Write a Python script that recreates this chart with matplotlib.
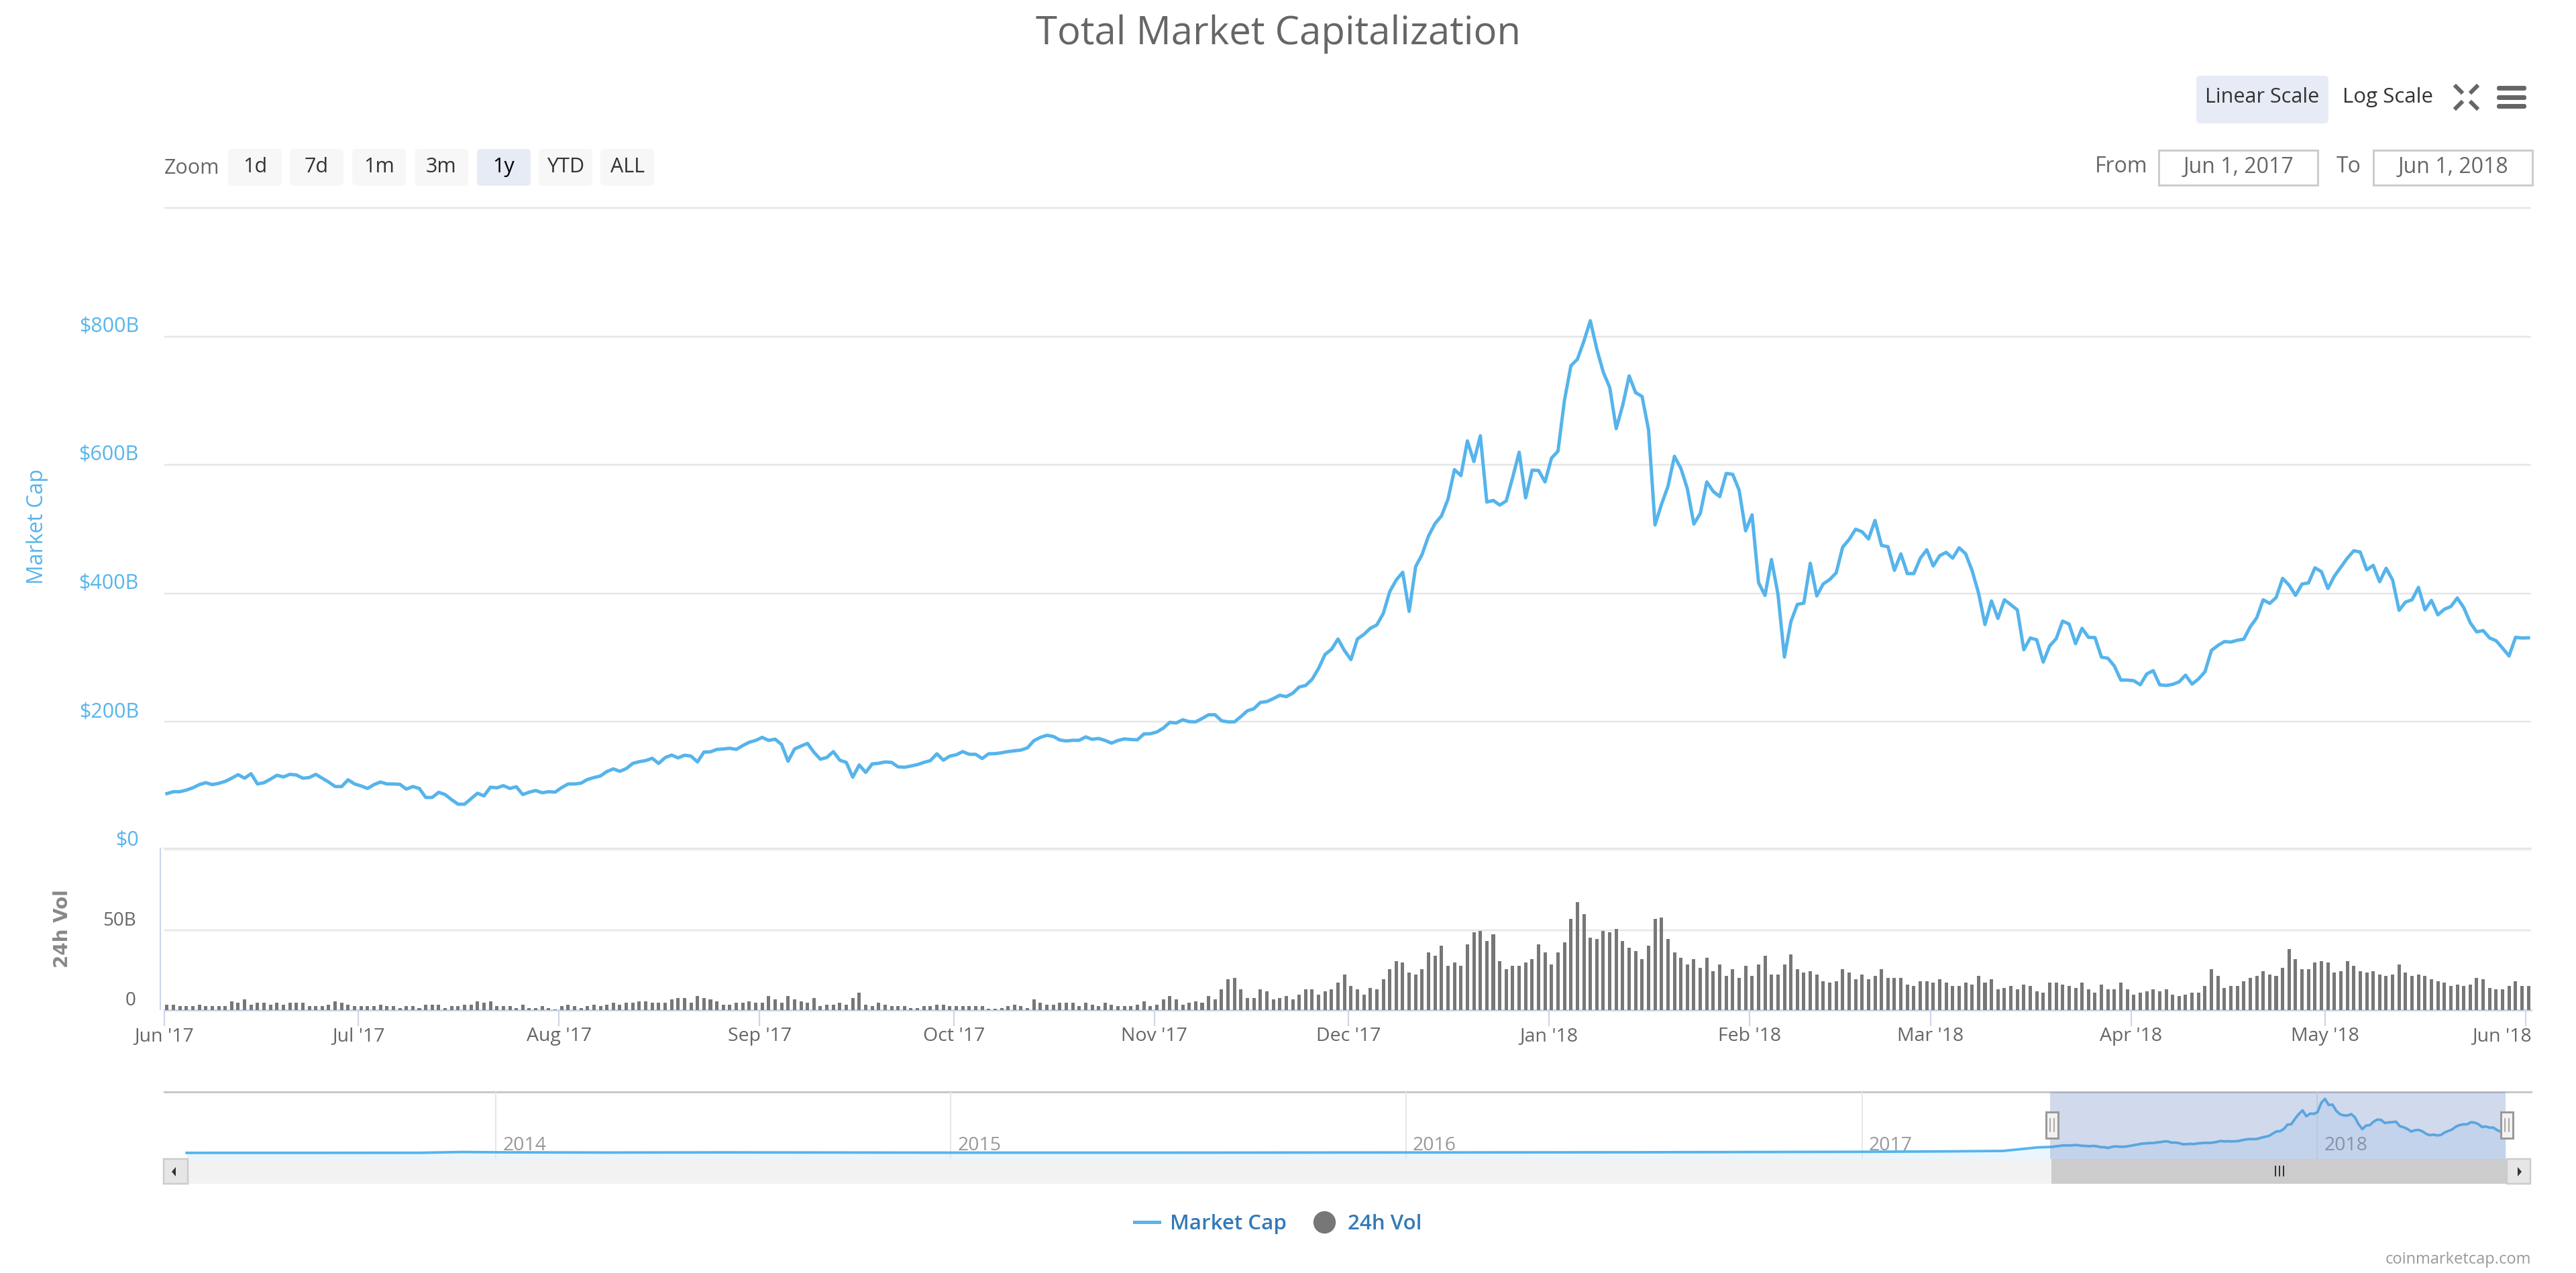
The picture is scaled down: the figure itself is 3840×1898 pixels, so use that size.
import datetime as dt
import matplotlib
matplotlib.use('Agg')
import matplotlib.pyplot as plt
import matplotlib.dates as mdates
import matplotlib.transforms as mtrans
from matplotlib.lines import Line2D
from matplotlib.patches import FancyBboxPatch, Rectangle, Polygon
import numpy as np

plt.rcParams['font.family'] = ['Open Sans', 'DejaVu Sans']

# daily values, starting Jun 1 2017 ($ billions)
market_cap = [
    88, 91, 91, 93.5, 97, 102, 105, 102, 104, 107, 112, 117.5, 112, 119, 103, 105, 110.5, 116.5, 114, 118,
    117, 112, 113, 118, 112, 106, 99, 99, 109.5, 103, 100, 96, 102, 106, 103, 103, 102.5, 95, 99, 96,
    82, 82, 90, 86.5, 78.5, 71.5, 71.5, 80, 88.6, 84.4, 98, 97, 100.4, 96, 98.7, 86.5, 90.3, 92.8, 89.3, 91,
    90.3, 97.3, 103, 103, 104.3, 110, 113, 115.4, 122.4, 126.5, 122.7, 127, 135, 137.7, 139.4, 143, 135, 144, 148, 143.6,
    147.8, 146.4, 137.3, 152.7, 153, 156.8, 157.5, 158.6, 156.8, 162.8, 168, 170.8, 175.6, 170.8, 172.8, 164.5, 138.4, 157.5, 162, 166.2,
    152.3, 141.5, 144.3, 153.4, 140, 136.6, 113.7, 132.5, 121, 134.2, 135.2, 137.3, 136.6, 129.7, 129, 131, 133.2, 136.6, 139.4, 150,
    140, 146.4, 148.5, 153.4, 149.2, 149.2, 142.6, 150, 150.2, 151.6, 153.4, 154.7, 155.8, 159.3, 170.4, 175.6, 178.8, 177, 171.5, 170,
    171, 171, 176.3, 172.5, 173.9, 170.8, 166.6, 170.8, 173.2, 172.2, 171.8, 180.9, 181.2, 184, 190, 199, 198, 203, 200, 199.7,
    205, 210.8, 210.8, 201.4, 199.7, 199.7, 208, 217, 220.2, 230, 231.3, 235.9, 241.1, 239, 244.2, 254, 256.4, 266, 283, 304.7,
    312.7, 328.7, 310.7, 296.7, 328.7, 335.9, 345.4, 350.6, 368.6, 402.6, 420.6, 432.6, 371.8, 441.4, 460.5, 489.3, 508.5, 520.5, 546.5, 592.4,
    583.2, 637.2, 605.2, 645.2, 542, 544.5, 537.3, 543.7, 580.5, 619.6, 548.5, 591.6, 591.2, 573.3, 610.4, 621.2, 700.4, 754.3, 764.3, 792.3,
    824.3, 780.3, 744.3, 720.3, 656.4, 692.4, 738.4, 712.4, 706.4, 654.4, 506.5, 538.5, 566.5, 613.2, 594.4, 562.5, 507.7, 524.5, 573.3, 558.5,
    550.5, 586.5, 585.2, 560.5, 497.3, 522, 416.6, 396.6, 452.5, 398.6, 300.7, 355.8, 382.6, 384.6, 446.6, 395.8, 414.6, 421.4, 431.8, 471.7,
    483.7, 499.7, 495.7, 484.5, 513.3, 474.5, 472.5, 435.7, 461.3, 430.6, 430.6, 454.5, 467.7, 442.5, 458.5, 463.7, 454.6, 470.8, 461.6, 435.4,
    400.4, 351.3, 388, 360.8, 389.8, 382.1, 374, 312, 330.3, 327.5, 292.8, 318, 329.2, 356.6, 352, 321.5, 345.4, 331.3, 331, 300.5,
    298.8, 286.5, 264.8, 264.8, 263.8, 257.4, 274.3, 279.5, 257.4, 256.4, 258.1, 262, 272.5, 258.5, 266.5, 277.8, 311, 318.7, 324.7, 324,
    326.8, 328.5, 347.8, 361.8, 389.8, 384.2, 393.3, 423.1, 412.6, 396.8, 414.4, 416.1, 439.6, 433.6, 407.4, 426.6, 440.6, 454.6, 466.2, 464.1,
    436.4, 443.4, 417.9, 438.9, 420.7, 373.4, 386.3, 389.8, 409.1, 374.1, 388.8, 366.4, 375.1, 379.3, 392.6, 377.6, 354.1, 339.8, 341.9, 330.3,
    326.1, 314.5, 302.3, 331.3, 330.3, 330.6,
]
volume = [
    3.2, 3.2, 2.2, 2.2, 2.2, 3.2, 2.2, 2.2, 2.2, 2.2, 5.3, 4.3, 6.4, 3.2, 4.3, 4.3, 3.2, 4.3, 3.2, 4.3,
    4.3, 4.3, 2.2, 2.2, 2.2, 3.2, 5.3, 4.3, 3.2, 2.2, 2.2, 2.2, 2.2, 3.2, 2.2, 2.2, 1.1, 2.2, 2.2, 1.1,
    3.2, 3.2, 3.2, 1.1, 2.2, 2.2, 3.2, 3.2, 5.3, 4.3, 5.3, 2.2, 2.2, 2.2, 1.1, 3.2, 1.1, 1.1, 2.2, 1.1,
    0.3, 2.2, 3.2, 2.2, 1.1, 2.2, 3.2, 2.2, 3.2, 4.3, 3.2, 4.3, 4.3, 5.3, 5.3, 4.3, 4.3, 4.3, 6.4, 7.4,
    7.4, 4.3, 8.5, 7.4, 6.4, 5.3, 3.2, 3.2, 4.3, 4.3, 5.3, 4.3, 4.3, 8.5, 6.4, 4.3, 8.5, 6.4, 5.3, 4.3,
    7.4, 2.2, 3.2, 3.2, 4.3, 3.2, 7.4, 10.6, 3.2, 2.2, 4.3, 3.2, 2.2, 2.2, 2.2, 1.1, 1.1, 2.2, 2.2, 3.2,
    3.2, 2.2, 2.2, 2.2, 2.2, 2.2, 2.2, 0.9, 0.9, 1.1, 2.2, 3.2, 2.2, 1.1, 6.4, 4.3, 3.2, 3.2, 4.3, 4.3,
    4.3, 2.2, 4.3, 3.2, 2.2, 4.3, 3.2, 2.2, 2.2, 2.2, 3.2, 5.3, 2.2, 3.2, 6.4, 8.5, 6.4, 3.2, 4.3, 5.3,
    4.3, 8.5, 6.4, 12.7, 19, 20, 12.7, 7.4, 7.4, 12.7, 11.6, 6.4, 7.4, 8.5, 6.6, 9.7, 12.7, 12.7, 9.7, 11.8,
    12.7, 16.9, 22.3, 15, 12.7, 9.7, 13.9, 12.7, 19.2, 25.5, 30.7, 29.7, 23.4, 22.3, 25.5, 36, 33.9, 40.2, 27.6, 29.7,
    27.6, 41.2, 48.6, 49.6, 43.3, 47.5, 30.7, 25.5, 27.6, 27.6, 29.7, 31.8, 41.2, 36, 28.6, 36, 42.3, 57, 67.5, 60,
    45.4, 44.4, 49.6, 48.6, 50.6, 43.3, 39, 37, 31.8, 40.2, 57, 58, 44.4, 36, 32.8, 28.6, 31.8, 26.5, 32.8, 24.4,
    28.6, 21.3, 25.5, 20.2, 27.6, 21.3, 28.6, 33.9, 22.3, 22.3, 28.6, 34.9, 25.5, 23.4, 24.4, 22.3, 18, 17, 18, 25.5,
    23.4, 19.2, 22.3, 19.2, 21.3, 25.5, 20.2, 20.2, 20.2, 16, 15, 18, 18, 17, 19.2, 17, 15, 15, 17, 16,
    21.3, 17, 19.2, 12.9, 13.9, 15, 12.9, 16, 15, 11.8, 10.8, 17, 17, 16, 15, 13.9, 17, 12.9, 10.8, 16,
    12.9, 12.9, 17, 12.9, 9.7, 10.8, 11.8, 12.9, 11.8, 12.9, 9.7, 8.7, 9.7, 10.8, 10.8, 15, 25.5, 21.3, 13.9, 15,
    15, 18, 20.2, 21.3, 24.4, 22.3, 21.3, 26.5, 38.1, 31.8, 25.5, 25.5, 29.7, 30.7, 29.7, 23.4, 24.4, 30.7, 27.6, 24.4,
    23.4, 24.4, 22.3, 21.3, 22.3, 28.6, 23.4, 21.3, 22.3, 21.3, 19.2, 18, 17, 15, 16, 15, 16, 20.2, 19.2, 13.9,
    12.9, 12.9, 15, 18, 15, 15,
]
month_ticks = ['2017-06-01', '2017-07-01', '2017-08-01', '2017-09-01', '2017-10-01', '2017-11-01', '2017-12-01',
               '2018-01-01', '2018-02-01', '2018-03-01', '2018-04-01', '2018-05-01', '2018-06-01']
month_labels = ["Jun '17", "Jul '17", "Aug '17", "Sep '17", "Oct '17", "Nov '17", "Dec '17",
                "Jan '18", "Feb '18", "Mar '18", "Apr '18", "May '18", "Jun '18"]
cap_ticks = [0, 200, 400, 600, 800, 1000]
cap_labels = ['$0', '$200B', '$400B', '$600B', '$800B', '']
vol_ticks = [0, 50]
vol_labels = ['0', '50B']

# navigator history before the zoomed year
nav_dates = ['2013-04-28', '2013-08-01', '2013-11-01', '2013-12-05', '2014-01-01', '2014-04-01', '2014-07-01',
             '2015-01-01', '2015-07-01', '2016-01-01', '2016-07-01', '2017-01-01', '2017-03-01', '2017-04-01',
             '2017-04-24', '2017-05-22']
nav_values = [1.5, 1.5, 2.5, 14, 10, 6, 8.5, 4.5, 4.5, 7, 10, 17, 22, 27, 30, 82]
nav_years = ['2014', '2015', '2016', '2017', '2018']
zoom_buttons = ['1d', '7d', '1m', '3m', '1y', 'YTD', 'ALL']
zoom_lefts = [340, 432, 525, 618, 711, 803, 895]

W, H = 3840, 1898
BLUE = '#56B4EB'
GRID = '#E6E6E6'
AXIS = '#CCD6EB'
GREY = '#666666'
px = 0.72  # points per pixel at dpi=100


def box(l, t, r, b):
    return [l / W, 1 - b / H, (r - l) / W, (b - t) / H]


def num(s):
    return mdates.date2num(dt.date.fromisoformat(s))


fig = plt.figure(figsize=(W / 100, H / 100), dpi=100, facecolor='white')

days = mdates.date2num(dt.date(2017, 6, 1)) + np.arange(len(market_cap)) + 0.4
x0 = num('2017-06-01')
xlim = (x0, x0 + 365.8)

# main panel
ax = fig.add_axes(box(245, 300, 3773, 1267.5))
ax.plot(days, market_cap, color=BLUE, lw=5 * px, solid_joinstyle='round', zorder=3, label='Market Cap')
ax.set_xlim(xlim)
ax.set_ylim(0, (1267.5 - 300) / 0.9575)
ax.set_xticks([])
ax.set_yticks(cap_ticks)
ax.set_yticklabels(cap_labels, color='#58B5EB', fontsize=22, va='bottom')
ax.tick_params(axis='y', length=0, pad=38 * px)
ax.grid(axis='y', color=GRID, lw=2.5 * px)
ax.set_axisbelow(True)
for s in ax.spines.values():
    s.set_visible(False)
ax.patch.set_alpha(0)

# volume panel
vol = fig.add_axes(box(245, 1265, 3773, 1505.7))
vol.bar(days, volume, width=0.52, color='#777777', zorder=3)
vol.set_xlim(xlim)
vol.set_ylim(0, (1505.7 - 1265) / 2.38)
vol.set_yticks(vol_ticks)
vol.set_yticklabels(vol_labels, color=GREY, fontsize=20, va='bottom')
vol.tick_params(axis='y', length=0, pad=42 * px)
vol.set_xticks([num(m) for m in month_ticks])
vol.set_xticklabels(month_labels, color=GREY, fontsize=20.5)
vol.tick_params(axis='x', length=24 * px, width=2.2 * px, color=AXIS, pad=1)
vol.grid(axis='y', color=GRID, lw=2.5 * px)
vol.set_axisbelow(True)
for name in ['left', 'right']:
    vol.spines[name].set_visible(False)
vol.spines['top'].set_color(GRID)
vol.spines['top'].set_linewidth(2.5 * px)
vol.spines['bottom'].set_color(AXIS)
vol.spines['bottom'].set_linewidth(3 * px)
vol.patch.set_alpha(0)
# last label sits inside the right edge
last = vol.get_xticklabels()[-1]
last.set_ha('right')
last.set_transform(last.get_transform() + mtrans.ScaledTranslation(9 / 100, 0, fig.dpi_scale_trans))

# navigator, zoomed year grouped into 3 day means like the original
nav = fig.add_axes(box(245, 1628, 3773, 1728))
grp = len(market_cap) // 3
nav_x = [num(d) for d in nav_dates] + [days[i * 3 + 1] for i in range(grp)] + [days[-1]]
nav_y = nav_values + [np.mean(market_cap[i * 3:i * 3 + 3]) for i in range(grp)] + [market_cap[-1]]
nav.fill_between(nav_x, nav_y, -89, color='#EBF5FD', lw=0, zorder=1)
nav.plot(nav_x, nav_y, color=BLUE, lw=3.8 * px, zorder=3)
year_x = [num(y + '-01-01') for y in nav_years]
nav.set_xlim(year_x[-1] - 1461 - 265.9, year_x[-1] + 171.7)
nav.set_ylim(-89, 901)
nav.set_xticks(year_x)
nav.set_xticklabels([])
nav.set_yticks([])
nav.tick_params(axis='x', length=0)
nav.grid(axis='x', color=GRID, lw=2 * px, zorder=2)
nav.set_axisbelow(False)
for y, xv in zip(nav_years, year_x):
    nav.text(xv + 5.5, 105, y, color='#999999', fontsize=20.5, va='center', ha='left', zorder=4)
nav.axvspan(num('2017-06-01'), num('2018-06-01'), color='#6685C2', alpha=0.3, lw=0, zorder=5)
for name in ['left', 'right', 'bottom']:
    nav.spines[name].set_visible(False)
nav.spines['top'].set_color('#C8C8C8')
nav.spines['top'].set_linewidth(3 * px)

# overlay in reference pixels for the page furniture
ui = fig.add_axes([0, 0, 1, 1], zorder=10)
ui.set_xlim(0, W)
ui.set_ylim(H, 0)
ui.axis('off')


def button(l, t, r, b, fc):
    ui.add_patch(FancyBboxPatch((l + 5, t + 5), r - l - 10, b - t - 10, boxstyle='round,pad=5,rounding_size=6',
                                fc=fc, ec='none'))


ui.text(1905, 51, 'Total Market Capitalization', color=GREY, fontsize=41.8, ha='center', va='center')
ui.text(55, 785, 'Market Cap', color='#58B5EB', fontsize=23, rotation=90, ha='center', va='center')
ui.text(93, 1385, '24h Vol', color='#888888', fontsize=20, rotation=90, ha='center', va='center',
        family='DejaVu Sans', weight='bold')
ui.plot([239, 239], [1265, 1505], color=AXIS, lw=2.2 * px)

ui.text(245, 251, 'Zoom', color=GREY, fontsize=22, ha='left', va='center')
for lab, l in zip(zoom_buttons, zoom_lefts):
    active = lab == '1y'
    button(l, 222, l + 80, 277, '#E6EBF5' if active else '#F7F7F7')
    ui.text(l + 40, 249, lab, color='black' if active else '#333333', fontsize=22, ha='center', va='center')

button(3274, 113, 3471, 184, '#E6EBF5')
ui.text(3372, 145, 'Linear Scale', color='#333333', fontsize=22, ha='center', va='center')
ui.text(3559, 145, 'Log Scale', color='#333333', fontsize=22.5, ha='center', va='center')
for a, b, c, d in [(3661, 129, 3669, 137), (3692, 129, 3684, 137), (3661, 161, 3669, 153), (3692, 161, 3684, 153)]:
    ui.plot([a, c], [b, d], color=GREY, lw=6 * px)
for t in [128, 142, 155]:
    ui.add_patch(FancyBboxPatch((3725, t + 3), 38, 1, boxstyle='round,pad=3', fc=GREY, ec='none'))

ui.text(3162, 248, 'From', color=GREY, fontsize=23, ha='center', va='center')
ui.text(3501, 248, 'To', color=GREY, fontsize=23, ha='center', va='center')
for l, r, lab in [(3218, 3455, 'Jun 1, 2017'), (3538, 3775, 'Jun 1, 2018')]:
    ui.add_patch(Rectangle((l, 224), r - l, 52, fc='white', ec='#CCCCCC', lw=3 * px))
    ui.text((l + r) / 2, 249, lab, color=GREY, fontsize=23, ha='center', va='center')

# scrollbar and navigator handles
ui.add_patch(Rectangle((280, 1728), 3457, 37, fc='#F2F2F2', ec='none'))
ui.add_patch(Rectangle((3058, 1728), 679, 37, fc='#CCCCCC', ec='none'))
for l, r in [(244, 280), (3737, 3772)]:
    ui.add_patch(Rectangle((l, 1728), r - l, 37, fc='#E6E6E6', ec='#CCCCCC', lw=2.5 * px))
ui.add_patch(Polygon([(262, 1740), (262, 1754), (256, 1747)], fc='#333333', ec='none'))
ui.add_patch(Polygon([(3753, 1740), (3753, 1754), (3759, 1747)], fc='#333333', ec='none'))
for g in [3392, 3398, 3404]:
    ui.plot([g, g], [1739, 1753], color='#333333', lw=2 * px)
for c in [3059, 3737]:
    ui.add_patch(Rectangle((c - 9, 1658), 18, 39, fc='#F2F2F2', ec='#999999', lw=3 * px))
    for g in [c - 3, c + 3]:
        ui.plot([g, g], [1668, 1687], color='#999999', lw=1.6 * px)

ui.text(3773, 1878, 'coinmarketcap.com', color='#999999', fontsize=17, ha='right', va='center')

handles = [Line2D([], [], color=BLUE, lw=5 * px),
           Line2D([], [], color='#777777', marker='o', ms=32 * px, lw=0)]
fig.legend(handles, ['Market Cap', '24h Vol'], loc='center', bbox_to_anchor=(1905 / W, 1 - 1825 / H), ncols=2,
           frameon=False, labelcolor='#337AB7', prop={'size': 22.5, 'weight': 'semibold'},
           handlelength=1.2, handletextpad=0.5, columnspacing=1.2)

fig.savefig('out.png', dpi=100)
